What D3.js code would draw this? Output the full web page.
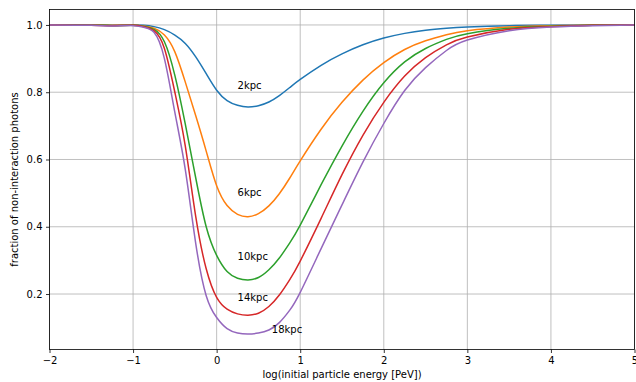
<!DOCTYPE html>
<html>
<head>
<meta charset="utf-8">
<script src="https://cdn.jsdelivr.net/npm/d3@7"></script>
<style>
body { margin: 0; background: #fff; }
text { font-family: "DejaVu Sans", sans-serif; }
</style>
</head>
<body>
<script>
// log10 of initial particle energy [PeV]
var energies = [-2, -1.5, -1.25, -1, -0.875, -0.75, -0.625, -0.5, -0.375, -0.25, -0.125, 0, 0.125, 0.25, 0.375, 0.5, 0.625, 0.75, 0.875, 1, 1.25, 1.5, 1.75, 2, 2.25, 2.5, 2.75, 3, 3.5, 4, 4.5, 5];

var kpc2  = [1, 1, 1, 1, 0.999, 0.995, 0.986, 0.97, 0.945, 0.905, 0.855, 0.806, 0.775, 0.761, 0.756, 0.76, 0.771, 0.79, 0.814, 0.838, 0.88, 0.914, 0.941, 0.961, 0.975, 0.984, 0.99, 0.994, 0.998, 0.999, 1, 1];
var kpc6  = [1, 1, 0.999, 0.999, 0.997, 0.99, 0.97, 0.92, 0.83, 0.73, 0.625, 0.522, 0.463, 0.437, 0.43, 0.439, 0.462, 0.498, 0.545, 0.596, 0.69, 0.77, 0.836, 0.888, 0.927, 0.953, 0.971, 0.983, 0.994, 0.998, 0.999, 1];
var kpc10 = [1, 1, 0.998, 0.999, 0.996, 0.987, 0.95, 0.85, 0.705, 0.545, 0.4, 0.315, 0.267, 0.247, 0.242, 0.249, 0.272, 0.307, 0.352, 0.405, 0.525, 0.64, 0.743, 0.828, 0.89, 0.93, 0.957, 0.974, 0.99, 0.996, 0.999, 1];
var kpc14 = [1, 0.999, 0.998, 0.999, 0.995, 0.983, 0.93, 0.8, 0.64, 0.43, 0.275, 0.19, 0.155, 0.141, 0.137, 0.143, 0.163, 0.197, 0.243, 0.298, 0.425, 0.555, 0.672, 0.77, 0.848, 0.903, 0.941, 0.964, 0.987, 0.995, 0.999, 1];
var kpc18 = [1, 0.999, 0.997, 0.998, 0.993, 0.978, 0.9, 0.74, 0.57, 0.35, 0.195, 0.13, 0.097, 0.084, 0.081, 0.084, 0.093, 0.115, 0.152, 0.205, 0.335, 0.465, 0.592, 0.707, 0.805, 0.873, 0.924, 0.955, 0.983, 0.994, 0.998, 1];

var seriesNames = ["2kpc", "6kpc", "10kpc", "14kpc", "18kpc"];
var seriesValues = [kpc2, kpc6, kpc10, kpc14, kpc18];
var colors = ["#1f77b4", "#ff7f0e", "#2ca02c", "#d62728", "#9467bd"];

// where the curve labels sit (data coords)
var labelX = [0.25, 0.25, 0.25, 0.25, 0.66];
var labelY = [0.81, 0.49, 0.30, 0.18, 0.085];

var xTicks = [-2, -1, 0, 1, 2, 3, 4, 5];
var yTicks = [0.2, 0.4, 0.6, 0.8, 1.0];

var w = 636, h = 382;
var mLeft = 49.5, mRight = 634.5, mTop = 9.5, mBottom = 349.5;

var svg = d3.select("body").append("svg").attr("width", w).attr("height", h);

var all = d3.merge(seriesValues);
var lo = d3.min(all), hi = d3.max(all);
var pad = (hi - lo) * 0.05;

var x = d3.scaleLinear().domain([-2, 5]).range([mLeft, mRight]);
var y = d3.scaleLinear().domain([lo - pad, hi + pad]).range([mBottom, mTop]);

// grid
svg.append("g").selectAll("line").data(xTicks).enter().append("line")
	.attr("x1", function(d) { return x(d); }).attr("x2", function(d) { return x(d); })
	.attr("y1", mTop).attr("y2", mBottom)
	.attr("stroke", "#b0b0b0").attr("stroke-width", 0.8);
svg.append("g").selectAll("line").data(yTicks).enter().append("line")
	.attr("y1", function(d) { return y(d); }).attr("y2", function(d) { return y(d); })
	.attr("x1", mLeft).attr("x2", mRight)
	.attr("stroke", "#b0b0b0").attr("stroke-width", 0.8);

var line = d3.line()
	.x(function(d, i) { return x(energies[i]); })
	.y(function(d) { return y(d); })
	.curve(d3.curveNatural);

svg.append("g").selectAll("path").data(seriesValues).enter().append("path")
	.attr("d", line)
	.attr("fill", "none")
	.attr("stroke", function(d, i) { return colors[i]; })
	.attr("stroke-width", 1.5);

svg.append("g").selectAll("text").data(seriesNames).enter().append("text")
	.attr("x", function(d, i) { return x(labelX[i]); })
	.attr("y", function(d, i) { return y(labelY[i]); })
	.attr("font-size", "10px")
	.attr("fill", "#000")
	.text(function(d) { return d; });

// axes
var xAxis = d3.axisBottom(x).tickValues(xTicks).tickSize(3.5).tickPadding(3.5)
	.tickFormat(function(d) { return d < 0 ? "\u2212" + Math.abs(d) : d; });
var yAxis = d3.axisLeft(y).tickValues(yTicks).tickSize(3.5).tickPadding(3.5)
	.tickFormat(d3.format(".1f"));

var gx = svg.append("g").attr("transform", "translate(0," + mBottom + ")").call(xAxis);
var gy = svg.append("g").attr("transform", "translate(" + mLeft + ",0)").call(yAxis);
[gx, gy].forEach(function(g) {
	g.select(".domain").remove();
	g.selectAll("line").attr("stroke", "#000").attr("stroke-width", 0.8);
	g.selectAll("text").attr("font-size", "10px").attr("fill", "#000").attr("font-family", "DejaVu Sans");
});

// frame
svg.append("rect").attr("x", mLeft).attr("y", mTop)
	.attr("width", mRight - mLeft).attr("height", mBottom - mTop)
	.attr("fill", "none").attr("stroke", "#000").attr("stroke-width", 0.8);

svg.append("text").attr("x", (mLeft + mRight) / 2).attr("y", 378)
	.attr("text-anchor", "middle").attr("font-size", "10px")
	.text("log(initial particle energy [PeV])");
svg.append("text").attr("transform", "translate(18," + (mTop + mBottom) / 2 + ") rotate(-90)")
	.attr("text-anchor", "middle").attr("font-size", "10px")
	.text("fraction of non-interaction photons");
</script>
</body>
</html>
